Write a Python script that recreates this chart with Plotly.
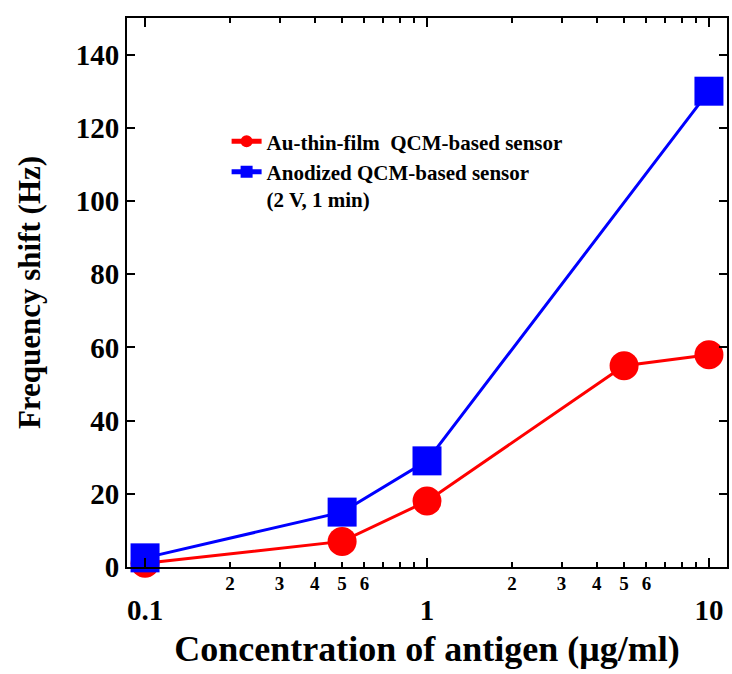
import plotly.graph_objects as go

# Antigen concentration (ug/ml) and measured frequency shifts (Hz)
concentration = [0.1, 0.5, 1, 5, 10]
au_film_shift = [1, 7, 18, 55, 58]
anodized_conc = [0.1, 0.5, 1, 10]
anodized_shift = [2.5, 15, 29, 130]

major_ticks = [0.1, 1, 10]
major_labels = ["0.1", "1", "10"]
minor_ticks = [0.2, 0.3, 0.4, 0.5, 0.6, 0.7, 0.8, 0.9, 2, 3, 4, 5, 6, 7, 8, 9]
minor_labels = ["2", "3", "4", "5", "6", "", "", "", "2", "3", "4", "5", "6", "", "", ""]
y_ticks = [0, 20, 40, 60, 80, 100, 120, 140]

FONT = "Liberation Serif, Times New Roman, serif"
xrange = [-1.064, 1.064]

fig = go.Figure()
fig.add_trace(go.Scatter(
    x=concentration, y=au_film_shift, mode="lines+markers",
    name="Au-thin-film  QCM-based sensor",
    line=dict(color="#ff0000", width=3),
    marker=dict(symbol="circle", size=29, color="#ff0000"),
    cliponaxis=False,
))
fig.add_trace(go.Scatter(
    x=anodized_conc, y=anodized_shift, mode="lines+markers",
    name="Anodized QCM-based sensor<br>(2 V, 1 min)",
    line=dict(color="#0000ff", width=3),
    marker=dict(symbol="square", size=29, color="#0000ff"),
    cliponaxis=False,
))

fig.update_layout(
    width=732, height=674,
    margin=dict(l=127, r=3, t=18, b=107),
    paper_bgcolor="white", plot_bgcolor="white",
    font=dict(family=FONT, color="black", weight="bold"),
    showlegend=True,
    legend=dict(
        x=0.166, y=0.812, xanchor="left", yanchor="top",
        bgcolor="rgba(0,0,0,0)", itemsizing="constant",
        valign="top", tracegroupgap=0,
        font=dict(family=FONT, size=21, color="black", weight="bold"),
    ),
    xaxis=dict(
        type="log", range=xrange,
        tickmode="array", tickvals=major_ticks, ticktext=major_labels,
        ticks="inside", ticklen=9, tickwidth=2, tickcolor="black",
        ticklabelstandoff=16,
        tickfont=dict(family=FONT, size=29, color="black", weight="bold"),
        showline=True, linecolor="black", linewidth=2, mirror="ticks",
        showgrid=False, zeroline=False,
        title=dict(text="Concentration of antigen (\u03bcg/ml)",
                   font=dict(family=FONT, size=36, color="black", weight="bold"),
                   standoff=11),
    ),
    xaxis2=dict(
        type="log", range=xrange, overlaying="x", anchor="y", side="bottom",
        tickmode="array", tickvals=minor_ticks, ticktext=minor_labels,
        ticks="inside", ticklen=5, tickwidth=2, tickcolor="black",
        ticklabelstandoff=3,
        tickfont=dict(family=FONT, size=19, color="black", weight="bold"),
        showline=False, mirror="ticks", showgrid=False, zeroline=False,
    ),
    yaxis=dict(
        range=[0, 150],
        tickmode="array", tickvals=y_ticks,
        ticks="inside", ticklen=8, tickwidth=2, tickcolor="black",
        tickfont=dict(family=FONT, size=29, color="black", weight="bold"),
        showline=True, linecolor="black", linewidth=2, mirror="ticks",
        showgrid=False, zeroline=False,
        title=dict(text="Frequency shift (Hz)",
                   font=dict(family=FONT, size=31, color="black", weight="bold"),
                   standoff=26),
    ),
)

# empty trace so the minor-tick axis is rendered
fig.add_trace(go.Scatter(x=[1], y=[None], xaxis="x2", showlegend=False, hoverinfo="skip"))

fig.write_html("out.html")
